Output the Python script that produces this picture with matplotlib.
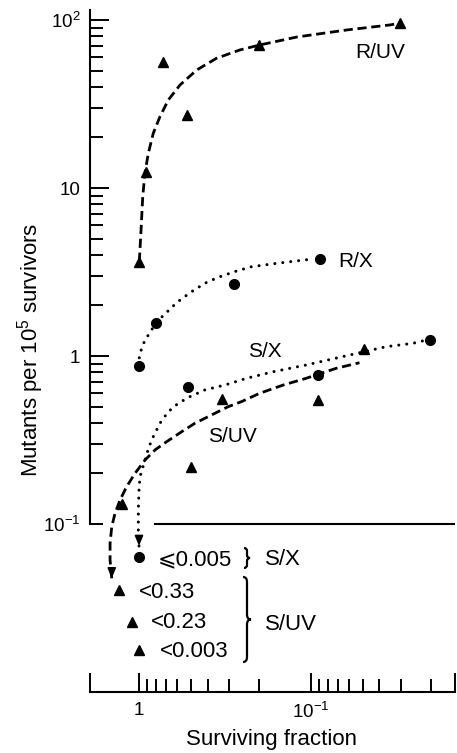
import matplotlib
matplotlib.use("Agg")
import matplotlib.pyplot as plt
from matplotlib.ticker import FixedLocator, FixedFormatter
from matplotlib.path import Path
from matplotlib.patches import PathPatch

plt.rcParams['font.family'] = ['Liberation Sans', 'DejaVu Sans']
plt.rcParams['mathtext.fontset'] = 'custom'
plt.rcParams['mathtext.rm'] = 'Liberation Sans'
plt.rcParams['mathtext.it'] = 'Liberation Sans:italic'
plt.rcParams['mathtext.bf'] = 'Liberation Sans:bold'

# ---------------- data (surviving fraction, mutants per 1e5 survivors) ----------------
ruv_x = [1.0, 0.914, 0.725, 0.526, 0.20, 0.0302]
ruv_y = [3.64, 12.5, 56.5, 27.2, 71.0, 95.6]

rx_x = [1.0, 0.80, 0.279, 0.089]
rx_y = [0.875, 1.58, 2.68, 3.76]

sx_x = [0.523, 0.091, 0.0204]
sx_y = [0.656, 0.767, 1.245]

suv_x = [1.265, 0.50, 0.329, 0.0906, 0.0494]
suv_y = [0.1315, 0.219, 0.552, 0.547, 1.096]

# upper-limit points shown below the axis break
sx_lim_x = [1.0]
sx_lim_y = [0.0639]
sx_lim_labels = ['⩽0.005']

suv_lim_x = [1.31, 1.107, 1.0]
suv_lim_y = [0.0405, 0.0262, 0.0178]
suv_lim_labels = ['<0.33', '<0.23', '<0.003']

# fitted curves
ruv_curve_x = [1.0, 0.977, 0.955, 0.927, 0.886, 0.829, 0.758, 0.678, 0.580, 0.463,
               0.355, 0.260, 0.199, 0.121, 0.0621, 0.0349, 0.0302]
ruv_curve_y = [3.64, 5.62, 8.88, 12.3, 16.1, 21.2, 26.6, 33.4, 41.0, 50.4,
               59.2, 66.3, 71.0, 79.2, 87.2, 93.4, 95.6]

rx_curve_x = [1.0, 1.0, 0.968, 0.927, 0.867, 0.80, 0.709, 0.606, 0.507, 0.415,
              0.347, 0.278, 0.222, 0.159, 0.0976]
rx_curve_y = [0.875, 1.0, 1.11, 1.245, 1.376, 1.58, 1.778, 2.076, 2.38, 2.71,
              2.94, 3.18, 3.40, 3.56, 3.78]

sx_curve_x = [1.004, 1.013, 1.013, 1.004, 0.991, 0.927, 0.878, 0.829, 0.758, 0.678,
              0.593, 0.507, 0.415, 0.317, 0.237, 0.166, 0.1066, 0.0682, 0.0365, 0.0255, 0.0204]
sx_curve_y = [0.074, 0.0921, 0.121, 0.159, 0.191, 0.240, 0.288, 0.331, 0.398, 0.466,
              0.523, 0.573, 0.628, 0.672, 0.737, 0.806, 0.884, 0.982, 1.136, 1.19, 1.257]

suv_curve_x = [1.447, 1.48, 1.48, 1.447, 1.385, 1.295, 1.184, 1.059, 0.927, 0.810,
               0.693, 0.567, 0.474, 0.379, 0.304, 0.254, 0.199, 0.145, 0.1066, 0.0713, 0.0522]
suv_curve_y = [0.0475, 0.0610, 0.0767, 0.0964, 0.1158, 0.139, 0.167, 0.2003, 0.240, 0.276,
               0.309, 0.354, 0.398, 0.446, 0.499, 0.535, 0.600, 0.672, 0.737, 0.845, 0.912]

y_major = [1, 10, 100]
y_major_labels = ['1', '10', '$10^2$']
y_minor = [0.1, 0.2, 0.3, 0.4, 0.5, 0.6, 0.7, 0.8, 0.9,
           2, 3, 4, 5, 6, 7, 8, 9, 20, 30, 40, 50, 60, 70, 80, 90]
x_major = [1.935, 1, 0.1, 0.01455]
x_major_labels = ['', '1', '$10^{-1}$', '']
x_minor = [0.9, 0.8, 0.7, 0.6, 0.5, 0.4, 0.3, 0.2,
           0.09, 0.08, 0.07, 0.06, 0.05, 0.04, 0.03, 0.02]

# ---------------- figure ----------------
W, H = 457, 753
fig = plt.figure(figsize=(W / 100, H / 100), dpi=100)
L, R, B, T = 90, 455, 692, 10
ax = fig.add_axes([L / W, (H - B) / H, (R - L) / W, (B - T) / H])
ax.set_xscale('log')
ax.set_yscale('log')
ax.set_xlim(1.937, 0.0145)
ax.set_ylim(0.01, 114.7)

def fx(px):
    return (px - L) / (R - L)

def fy(py):
    return (B - py) / (B - T)

for s in ['top', 'right']:
    ax.spines[s].set_visible(False)
ax.spines['left'].set_bounds(0.1, 114.7)
ax.spines['left'].set_linewidth(1.5)
ax.spines['bottom'].set_linewidth(1.5)

ax.yaxis.set_major_locator(FixedLocator(y_major))
ax.yaxis.set_major_formatter(FixedFormatter(y_major_labels))
ax.yaxis.set_minor_locator(FixedLocator(y_minor))
ax.yaxis.set_minor_formatter(FixedFormatter(['$10^{-1}$'] + [''] * (len(y_minor) - 1)))
ax.xaxis.set_major_locator(FixedLocator(x_major))
ax.xaxis.set_major_formatter(FixedFormatter(x_major_labels))
ax.xaxis.set_minor_locator(FixedLocator(x_minor))
ax.xaxis.set_minor_formatter(FixedFormatter([''] * len(x_minor)))

ax.tick_params(axis='y', which='major', direction='in', length=14, width=1.4, labelsize=13.5, pad=7)
ax.tick_params(axis='y', which='minor', direction='in', length=9.4, width=1.4, labelsize=13.5, pad=7)
ax.tick_params(axis='x', which='major', direction='in', length=13.5, width=1.4, labelsize=13.5, pad=7)
ax.tick_params(axis='x', which='minor', direction='in', length=9.4, width=1.4, pad=7)

# axis break line at 10^-1
ax.axhline(0.1, xmin=fx(155), xmax=1, color='black', lw=1.5)

dash = (0, (3.3, 1.7))
dot = (0, (0.01, 2.6))
ax.plot(ruv_curve_x, ruv_curve_y, color='black', lw=2.0, linestyle=dash)
ax.plot(suv_curve_x, suv_curve_y, color='black', lw=2.0, linestyle=dash)
ax.plot(rx_curve_x, rx_curve_y, color='black', lw=2.2, linestyle=dot, dash_capstyle='round')
ax.plot(sx_curve_x, sx_curve_y, color='black', lw=2.2, linestyle=dot, dash_capstyle='round')

for cx, cy in [(suv_curve_x, suv_curve_y), (sx_curve_x, sx_curve_y)]:
    ax.annotate('', xy=(cx[0], cy[0]), xytext=(0, 6), textcoords='offset points',
                arrowprops=dict(arrowstyle='-|>,head_length=0.6,head_width=0.25',
                                color='black', lw=1.2, shrinkA=0, shrinkB=0))

tri = dict(marker='^', ms=7, color='black', linestyle='none', zorder=5)
cir = dict(marker='o', ms=7, color='black', linestyle='none', zorder=5)
ax.plot(ruv_x, ruv_y, **tri)
ax.plot(suv_x, suv_y, **tri)
ax.plot(suv_lim_x, suv_lim_y, **tri)
ax.plot(rx_x, rx_y, **cir)
ax.plot(sx_x, sx_y, **cir)
ax.plot(sx_lim_x, sx_lim_y, **cir)

fs = 15
fs2 = 16
ax.text(fx(355), fy(58), 'R/UV', transform=ax.transAxes, fontsize=fs, va='baseline')
ax.text(fx(338), fy(267), 'R/X', transform=ax.transAxes, fontsize=fs, va='baseline')
ax.text(fx(248), fy(356.7), 'S/X', transform=ax.transAxes, fontsize=fs, va='baseline')
ax.text(fx(208), fy(441.7), 'S/UV', transform=ax.transAxes, fontsize=fs, va='baseline')

lim_pos = [(158, 565)]
for (px, py), lab in zip(lim_pos, sx_lim_labels):
    ax.text(fx(px), fy(py), lab, transform=ax.transAxes, fontsize=fs2, va='baseline')
lim_pos2 = [(139, 598), (151, 628.3), (160, 657.3)]
for (px, py), lab in zip(lim_pos2, suv_lim_labels):
    ax.text(fx(px), fy(py), lab, transform=ax.transAxes, fontsize=fs2, va='baseline')
ax.text(fx(265), fy(565), 'S/X', transform=ax.transAxes, fontsize=fs2, va='baseline')
ax.text(fx(265), fy(630), 'S/UV', transform=ax.transAxes, fontsize=fs2, va='baseline')

def brace(xc, top, bot, w=4, r=5):
    mid = (top + bot) / 2
    pts = [(xc - w, top), (xc, top), (xc, top + r), (xc, mid - r), (xc, mid), (xc + w, mid),
           (xc, mid), (xc, mid + r), (xc, bot - r), (xc, bot), (xc - w, bot)]
    codes = [Path.MOVETO, Path.CURVE3, Path.CURVE3, Path.LINETO, Path.CURVE3, Path.CURVE3,
             Path.CURVE3, Path.CURVE3, Path.LINETO, Path.CURVE3, Path.CURVE3]
    verts = [(fx(a), fy(b)) for a, b in pts]
    ax.add_patch(PathPatch(Path(verts, codes), transform=ax.transAxes, fill=False,
                           lw=1.6, color='black', clip_on=False))

brace(247, 548, 568, w=3, r=3)
brace(247, 577, 662, w=4, r=5)

fig.text(31 / W, 1 - 350 / H, 'Mutants per 10$^5$ survivors', rotation=90,
         ha='center', va='center', fontsize=16)
fig.text(271 / W, 1 - 739 / H, 'Surviving fraction', ha='center', va='center', fontsize=16)

fig.savefig('out.png', dpi=100)
